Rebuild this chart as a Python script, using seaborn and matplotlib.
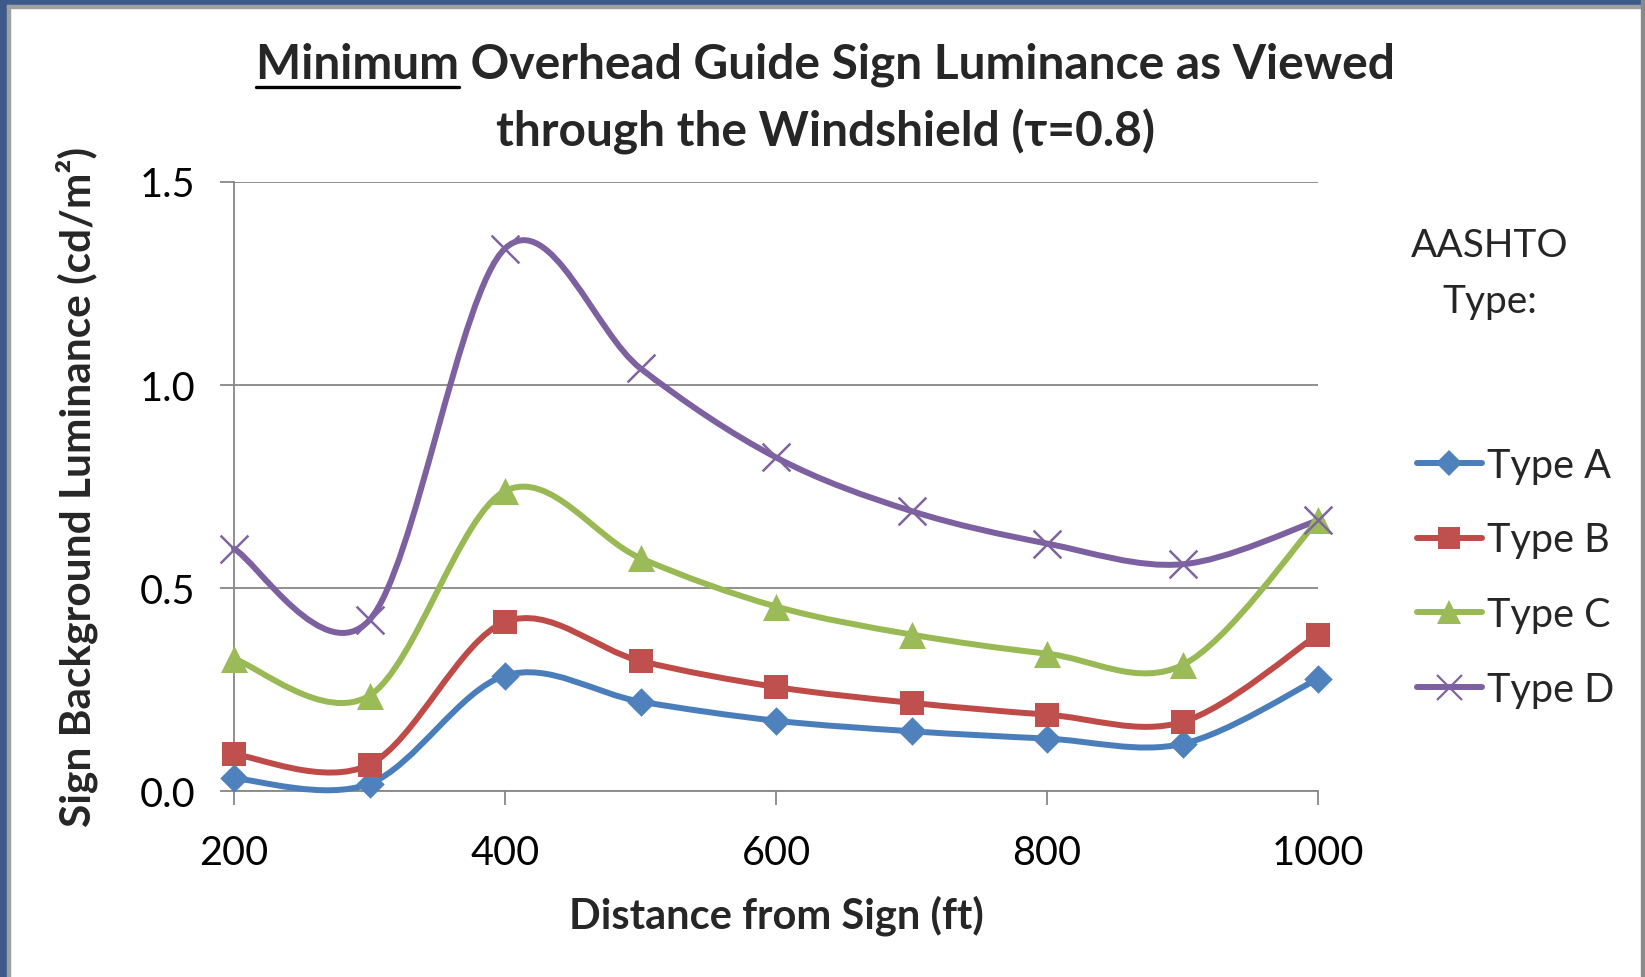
import numpy as np
import pandas as pd
import seaborn as sns
import matplotlib.pyplot as plt
from matplotlib.path import Path
from matplotlib.patches import PathPatch, Rectangle
from matplotlib.lines import Line2D

# Data
distance = [200, 300, 400, 500, 600, 700, 800, 900, 1000]
type_a = [0.031, 0.018, 0.284, 0.220, 0.173, 0.147, 0.129, 0.116, 0.276]
type_b = [0.090, 0.065, 0.416, 0.320, 0.256, 0.217, 0.188, 0.170, 0.385]
type_c = [0.325, 0.235, 0.738, 0.573, 0.454, 0.385, 0.338, 0.310, 0.666]
type_d = [0.596, 0.421, 1.335, 1.040, 0.821, 0.689, 0.609, 0.558, 0.666]
series_names = ["Type A", "Type B", "Type C", "Type D"]

# Excel 2007 default colours (line, marker)
line_colors = ["#4A7EBB", "#BE4B48", "#98B954", "#7D60A0"]
marker_colors = ["#4F81BD", "#C0504D", "#9BBB59", "#8064A2"]
markers = ["D", "s", "^", "x"]
marker_sizes = [14.5, 17.5, 19.5, 20]

FONT = ["Lato", "DejaVu Sans"]


def smooth_path(x, y):
    """Excel-style smoothed line: cubic Bezier segments through the points."""
    pts = np.column_stack([x, y]).astype(float)
    n = len(pts)
    verts = [pts[0]]
    codes = [Path.MOVETO]
    for i in range(n - 1):
        p_prev = pts[i - 1] if i > 0 else pts[i]
        p_next2 = pts[i + 2] if i + 2 < n else pts[i + 1]
        c1 = pts[i] + (pts[i + 1] - p_prev) / 6.0
        c2 = pts[i + 1] - (p_next2 - pts[i]) / 6.0
        verts += [c1, c2, pts[i + 1]]
        codes += [Path.CURVE4] * 3
    return Path(verts, codes)


sns.set_theme(style="white")
plt.rcParams["font.family"] = FONT

fig = plt.figure(figsize=(16.45, 9.78), dpi=100)
ax = fig.add_axes([234 / 1645, 1 - 792 / 978, (1318 - 234) / 1645, (792 - 182.5) / 978])

df = pd.DataFrame({"distance": distance, "Type A": type_a, "Type B": type_b,
                   "Type C": type_c, "Type D": type_d})

for name, lc, mc, mk, ms in zip(series_names, line_colors, marker_colors, markers, marker_sizes):
    path = smooth_path(df["distance"], df[name])
    ax.add_patch(PathPatch(path, facecolor="none", edgecolor=lc, lw=4.3,
                           capstyle="round", joinstyle="round", zorder=3, clip_on=False))
    if mk == "x":
        sns.scatterplot(data=df, x="distance", y=name, marker=mk, s=ms ** 2, color=mc,
                        linewidth=1.8, ax=ax, zorder=4, clip_on=False, legend=False)
    else:
        sns.scatterplot(data=df, x="distance", y=name, marker=mk, s=ms ** 2, color=mc,
                        linewidth=0, ax=ax, zorder=4, clip_on=False, legend=False)

ax.set_xlim(200, 1000)
ax.set_ylim(0, 1.5)
ax.set_xticks([200, 400, 600, 800, 1000])
ax.set_yticks([0.0, 0.5, 1.0, 1.5])
ax.set_yticklabels(["0.0", "0.5", "1.0", "1.5"])
ax.yaxis.grid(True, color="#878787", lw=1.3)
ax.set_axisbelow(True)
for side in ["top", "right"]:
    ax.spines[side].set_visible(False)
for side in ["left", "bottom"]:
    ax.spines[side].set_color("#878787")
    ax.spines[side].set_linewidth(1.3)
ax.tick_params(axis="both", direction="out", length=10, width=1.3, color="#878787",
               labelsize=28.5, labelcolor="black")
ax.tick_params(axis="y", pad=18, left=True)
ax.tick_params(axis="x", pad=21, bottom=True)

ax.set_xlabel("Distance from Sign (ft)", fontsize=30, fontweight="bold", labelpad=17)
ax.set_ylabel("Sign Background Luminance (cd/m\u00b2)", fontsize=30.5, fontweight="bold", labelpad=30)

# Title (two lines, first word underlined)
TITLE_SIZE = 34.5
t1 = fig.text(825 / 1645, 1 - 65 / 978, "Minimum Overhead Guide Sign Luminance as Viewed",
              ha="center", va="center", fontsize=TITLE_SIZE, fontweight="bold", family=FONT)
fig.text(825 / 1645, 1 - 132 / 978, "through the Windshield (\u03c4=0.8)",
         ha="center", va="center", fontsize=TITLE_SIZE, fontweight="bold", family=FONT)

# Legend
fig.text(1490 / 1645, 1 - 246 / 978, "AASHTO", ha="center", va="center", fontsize=28)
fig.text(1490 / 1645, 1 - 302 / 978, "Type:", ha="center", va="center", fontsize=28)
handles = [Line2D([], [], color=lc, lw=4.3, marker=mk, markersize=ms * 0.9, markerfacecolor=mc,
                  markeredgecolor=mc, markeredgewidth=(1.6 if mk == "x" else 0))
           for lc, mc, mk, ms in zip(line_colors, marker_colors, markers, marker_sizes)]
fig.legend(handles, series_names, loc="upper left", bbox_to_anchor=(1397 / 1645, 1 - 428 / 978),
           frameon=False, fontsize=28.5, handlelength=1.65, handletextpad=0.12,
           labelspacing=0.95, borderpad=0)

# Underline "Minimum"
fig.canvas.draw()
renderer = fig.canvas.get_renderer()
bb = t1.get_window_extent(renderer)
tmp = fig.text(bb.x0 / 1645, 1 - 65 / 978, "Minimum", ha="left", va="center", fontsize=TITLE_SIZE,
               fontweight="bold", family=FONT, color="none")
bm = tmp.get_window_extent(renderer)
tmp.remove()
uy = (bm.y0 - 1) / 978
fig.add_artist(Line2D([bm.x0 / 1645, bm.x1 / 1645], [uy, uy], color="black", lw=2.4,
                      transform=fig.transFigure))

# Window frame around the chart
fig.add_artist(Rectangle((0, 1 - 6 / 978), 1, 6 / 978, transform=fig.transFigure,
                         color="#3d5b8a", zorder=10))
fig.add_artist(Rectangle((0, 0), 7 / 1645, 1, transform=fig.transFigure,
                         color="#3d5b8a", zorder=10))
fig.add_artist(Rectangle((7 / 1645, 0), 3 / 1645, 1 - 6 / 978, transform=fig.transFigure,
                         color="#a0a0a0", zorder=10))
fig.add_artist(Rectangle((7 / 1645, 1 - 9 / 978), 1, 3 / 978, transform=fig.transFigure,
                         color="#a0a0a0", zorder=10))
fig.add_artist(Rectangle((1 - 4 / 1645, 0), 4 / 1645, 1, transform=fig.transFigure,
                         color="#8a8a8a", zorder=10))

fig.savefig("out.png", dpi=100)
